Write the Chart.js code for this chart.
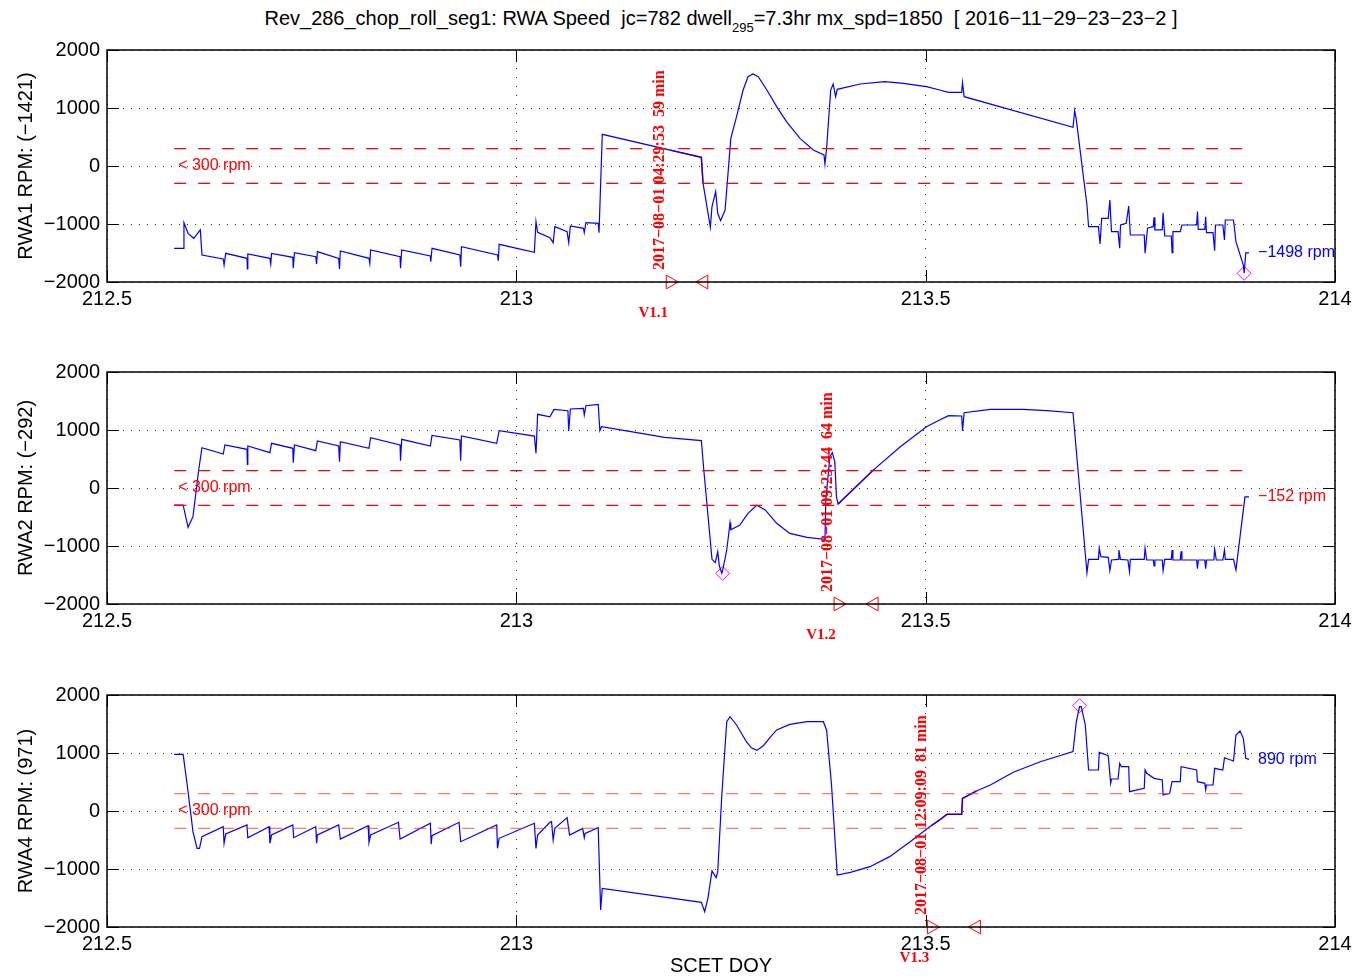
<!DOCTYPE html>
<html>
<head>
<meta charset="utf-8">
<script src="https://cdn.jsdelivr.net/npm/chart.js@4.4.0/dist/chart.umd.min.js"></script>
<style>
  body { margin: 0; background: #fff; width: 1353px; height: 979px; position: relative; overflow: hidden;
         font-family: "Liberation Sans", Arial, Helvetica, sans-serif; }
  #title { position: absolute; left: 107px; width: 1228px; top: 7px; text-align: center; font-size: 20px;
           white-space: pre; color: #000; line-height: 22px; }
  #title sub { font-size: 13px; vertical-align: -7px; line-height: 0; }
  .panel { position: absolute; left: 0; width: 1353px; }
</style>
</head>
<body>
<div id="title">Rev_286_chop_roll_seg1: RWA Speed  jc=782 dwell<sub>295</sub>=7.3hr mx_spd=1850  [ 2016−11−29−23−23−2 ]</div>
<div class="panel" style="top:31px;height:291px"><canvas id="rwa1"></canvas></div>
<div class="panel" style="top:353px;height:291px"><canvas id="rwa2"></canvas></div>
<div class="panel" style="top:676px;height:302px"><canvas id="rwa4"></canvas></div>
<script>
// axes
const doyTicks = [212.5, 213, 213.5, 214];
const rpmTicks = [-2000, -1000, 0, 1000, 2000];

// per-wheel info
const wheelNames = ['RWA1', 'RWA2', 'RWA4'];
const wheelMean = [-1421, -292, 971];
const finalRpm = [-1498, -152, 890];
const peakDoy = [213.889, 213.252, 213.688];
const peakRpm = [-1850, -1471, 1815];

// low speed band
const bandRpm = 300;
const bandDoy = [212.582, 213.895];

// passes
const passName = ['V1.1', 'V1.2', 'V1.3'];
const passTime = ['2017−08−01 04:29:53', '2017−08−01 09:23:44', '2017−08−01 12:09:09'];
const passMinutes = [59, 64, 81];
const passStart = [213.188, 213.393, 213.507];
const passEnd = [213.229, 213.437, 213.562];

// RWA1 speed
const rwa1Doy = [212.582, 212.593, 212.594, 212.599, 212.606, 212.614, 212.616,
  212.642, 212.643, 212.645, 212.671, 212.6715, 212.672, 212.699, 212.700, 212.701,
  212.727, 212.7275, 212.729, 212.755, 212.756, 212.757, 212.783, 212.784, 212.785,
  212.820, 212.821, 212.822, 212.858, 212.8585, 212.860, 212.895, 212.8955, 212.897,
  212.931, 212.932, 212.933, 212.977, 212.978, 212.979, 213.022, 213.024, 213.026,
  213.041, 213.045, 213.047, 213.062, 213.064, 213.066, 213.082, 213.083, 213.085,
  213.100, 213.101, 213.105, 213.188, 213.226, 213.228, 213.237, 213.239, 213.2435,
  213.246, 213.2495, 213.255, 213.262, 213.269, 213.277, 213.283, 213.289, 213.2955,
  213.306, 213.318, 213.330, 213.3465, 213.3627, 213.3758, 213.377, 213.379, 213.384,
  213.387, 213.390, 213.392, 213.420, 213.450, 213.4727, 213.501, 213.517, 213.528,
  213.544, 213.545, 213.547,
  213.680, 213.682, 213.684, 213.697, 213.699, 213.711, 213.713, 213.715, 213.723,
  213.725, 213.727, 213.735, 213.737, 213.738, 213.745, 213.748, 213.750, 213.767,
  213.768, 213.771, 213.778, 213.779, 213.780, 213.789, 213.790, 213.792, 213.800,
  213.801, 213.802, 213.811, 213.813, 213.831, 213.832, 213.833, 213.841, 213.842,
  213.843, 213.851, 213.853, 213.854, 213.863, 213.865, 213.866, 213.876, 213.879,
  213.888, 213.889, 213.891, 213.895];
const rwa1Rpm = [-1420, -1420, -977, -1161, -1247, -1103, -1534,
  -1603, -1707, -1506, -1592, -1776, -1517, -1592, -1690, -1506,
  -1575, -1764, -1494, -1563, -1690, -1477, -1592, -1776, -1466,
  -1592, -1678, -1448, -1563, -1764, -1448, -1552, -1649, -1419,
  -1534, -1736, -1391, -1534, -1632, -1350, -1488, -960, -1143,
  -1236, -1322, -1046, -1132, -1322, -1034, -1074, -1149, -977,
  -988, -1149, 546, 274, 150, -290, -1057, -701, -443,
  -816, -943, -759, 477, 850, 1310, 1540, 1586, 1540,
  1310, 1023, 764, 477, 276, 190, 34, 305, 1310,
  1414, 1195, 1322, 1414, 1453, 1426, 1368, 1310, 1270,
  1270, 1436, 1195,
  667, 954, 800, -672, -1046, -1046, -1345, -902, -902,
  -586, -1132, -1132, -1419, -1017, -988, -690, -1190, -1190,
  -1505, -1074, -1046, -885, -1103, -1103, -805, -1207, -1207,
  -1494, -1132, -1132, -1017, -1017, -787, -1092, -1092, -874,
  -1149, -1149, -1460, -1017, -1017, -1276, -931, -931, -1305,
  -1707, -1850, -1498, -1498];
const rwa1RedDoy = [213.188, 213.226, 213.228];
const rwa1RedRpm = [274, 150, -290];

// RWA2 speed
const rwa2Doy = [212.582, 212.593, 212.599, 212.605, 212.612, 212.616,
  212.642, 212.644, 212.671, 212.6715, 212.672, 212.699, 212.701,
  212.727, 212.7275, 212.729, 212.755, 212.757, 212.783, 212.784, 212.785,
  212.820, 212.822, 212.858, 212.8585, 212.860, 212.895, 212.897,
  212.931, 212.932, 212.933, 212.976, 212.979, 213.022, 213.024, 213.026,
  213.041, 213.046, 213.063, 213.064, 213.066, 213.082, 213.083, 213.085,
  213.100, 213.102, 213.104, 213.140, 213.181, 213.226, 213.229, 213.239,
  213.243, 213.246, 213.248, 213.251, 213.253, 213.257, 213.260, 213.261,
  213.262, 213.273, 213.283, 213.2936, 213.304, 213.318, 213.334, 213.355,
  213.377, 213.378, 213.383, 213.386, 213.389, 213.391, 213.393, 213.437,
  213.469, 213.501, 213.517, 213.528,
  213.544, 213.545, 213.547, 213.579, 213.619, 213.648, 213.680, 213.697,
  213.699, 213.711, 213.712, 213.714, 213.723, 213.725, 213.727, 213.735,
  213.736, 213.738, 213.747, 213.749, 213.750, 213.767, 213.768, 213.770,
  213.778, 213.779, 213.780, 213.789, 213.790, 213.792, 213.800, 213.801,
  213.802, 213.811, 213.812, 213.813, 213.831, 213.832, 213.833, 213.841,
  213.842, 213.843, 213.852, 213.853, 213.855, 213.863, 213.865, 213.866,
  213.876, 213.879, 213.890, 213.895];
const rwa2Rpm = [-293, -293, -678, -494, 310, 695,
  586, 741, 667, 408, 724, 609, 770,
  684, 436, 741, 644, 810, 724, 454, 798,
  684, 867, 741, 471, 839, 724, 908,
  828, 471, 896, 770, 988, 896, 598, 1270,
  1229, 1356, 1333, 983, 1362, 1374, 1258, 1419,
  1443, 988, 1057, 971, 874, 816, 310, -1230,
  -1287, -1098, -1345, -1471, -1356, -1069, -724, -598,
  -720, -638, -437, -299, -379, -609, -782, -851,
  -885, -207, 540, 609, 454, -149, -276, 322,
  712, 1057, 1172, 1247,
  1241, 988, 1298, 1356, 1356, 1333, 1298, -1460,
  -1230, -1230, -1040, -1184, -1195, -1425, -1241, -1230,
  -1069, -1230, -1241, -1443, -1230, -1230, -1040, -1241,
  -1241, -1345, -1241, -1241, -1425, -1230, -1230, -1069,
  -1241, -1241, -1092, -1241, -1241, -1391, -1241, -1241,
  -1391, -1241, -1241, -1057, -1241, -1241, -1069, -1230,
  -1230, -1414, -152, -152];
const rwa2RedDoy = [213.393, 213.437];
const rwa2RedRpm = [-276, 322];

// RWA4 speed
const rwa4Doy = [212.582, 212.593, 212.598, 212.605, 212.610, 212.613, 212.616,
  212.642, 212.643, 212.645, 212.671, 212.672, 212.698, 212.699, 212.701,
  212.727, 212.728, 212.755, 212.756, 212.757, 212.783, 212.785,
  212.819, 212.820, 212.822, 212.856, 212.858, 212.895, 212.896, 212.897,
  212.930, 212.932, 212.976, 212.977, 212.979, 213.022, 213.024, 213.026,
  213.041, 213.043, 213.045, 213.047, 213.062, 213.065, 213.081, 213.083,
  213.084, 213.100, 213.103, 213.105, 213.226, 213.230, 213.234, 213.239,
  213.244, 213.246, 213.251, 213.257, 213.261, 213.269, 213.281, 213.287,
  213.294, 213.302, 213.310, 213.318, 213.334, 213.355, 213.375, 213.379, 213.385, 213.392,
  213.408, 213.432, 213.456, 213.481, 213.505, 213.517, 213.526, 213.544,
  213.545, 213.562, 213.579, 213.607, 213.640, 213.680, 213.684, 213.688,
  213.690, 213.695, 213.699, 213.711, 213.712, 213.723, 213.726, 213.727,
  213.735, 213.737, 213.739, 213.748, 213.749, 213.767, 213.768, 213.770,
  213.779, 213.789, 213.790, 213.798, 213.801, 213.811, 213.812, 213.831,
  213.832, 213.841, 213.842, 213.843, 213.851, 213.853, 213.863, 213.865,
  213.876, 213.879, 213.884, 213.888, 213.891, 213.895];
const rwa4Rpm = [975, 975, 448, -356, -644, -644, -443,
  -270, -557, -397, -241, -460, -270, -557, -414,
  -241, -460, -270, -557, -414, -241, -483,
  -253, -540, -414, -195, -483, -212, -574, -425,
  -195, -529, -241, -644, -471, -212, -644, -414,
  -195, -184, -500, -299, -115, -414, -299, -460,
  -385, -287, -1707, -1333, -1575, -1736, -1506, -1034,
  -1149, -1046, 276, 1540, 1626, 1483, 1195, 1090,
  1045, 1130, 1270, 1397, 1494, 1540, 1540, 1397, 448, -1103,
  -1057, -960, -787, -529, -270, -155, -57, -57,
  218, 345, 448, 667, 850, 1023, 1540, 1798,
  1798, 1483, 707, 707, 1011, 954, 477, 552,
  552, 822, 764, 764, 333, 391, 707, 649,
  563, 534, 276, 305, 506, 506, 764, 707,
  506, 477, 362, 448, 448, 736, 707, 919,
  862, 1310, 1379, 1253, 908, 890];
const rwa4RedDoy = [213.507, 213.517, 213.526, 213.544, 213.545, 213.562];
const rwa4RedRpm = [-251, -155, -57, -57, 218, 345];

const sans = '"Liberation Sans", Arial, Helvetica, sans-serif';
const serif = '"Liberation Serif", "Times New Roman", serif';
const minus = v => String(v).replace('-', '\u2212');
const bandColors = ['#ff0000', '#ff0000', 'rgba(255,40,40,0.65)'];

Chart.defaults.font.family = sans;
Chart.defaults.color = '#000';

// draws the matlab-style box, inward ticks and the text notes
const matlabBox = {
  id: 'matlabBox',
  afterDraw(chart) {
    const i = chart.options.plugins.matlabBox.panel;
    const { ctx, chartArea: a } = chart;
    const x = chart.scales.x, y = chart.scales.y;
    ctx.save();
    ctx.strokeStyle = '#000';
    ctx.lineWidth = 1;
    ctx.beginPath();
    doyTicks.forEach(v => {
      const px = Math.round(x.getPixelForValue(v)) + 0.5;
      ctx.moveTo(px, a.bottom); ctx.lineTo(px, a.bottom - 12);
      ctx.moveTo(px, a.top); ctx.lineTo(px, a.top + 12);
    });
    rpmTicks.forEach(v => {
      const py = Math.round(y.getPixelForValue(v)) + 0.5;
      ctx.moveTo(a.left, py); ctx.lineTo(a.left + 12, py);
      ctx.moveTo(a.right, py); ctx.lineTo(a.right - 12, py);
    });
    ctx.stroke();
    ctx.lineWidth = 1.5;
    ctx.strokeRect(a.left, a.top, a.right - a.left, a.bottom - a.top);

    // band note
    ctx.font = '16px ' + sans;
    ctx.textBaseline = 'middle';
    ctx.textAlign = 'left';
    ctx.fillStyle = 'red';
    ctx.fillText('< ' + bandRpm + ' rpm', x.getPixelForValue(bandDoy[0]) + 4, y.getPixelForValue(0));

    // final value
    ctx.fillStyle = Math.abs(finalRpm[i]) < bandRpm ? 'red' : 'blue';
    ctx.fillText(minus(finalRpm[i]) + ' rpm', x.getPixelForValue(bandDoy[1]) + 9, y.getPixelForValue(finalRpm[i]));

    // pass time, rotated
    const xs = x.getPixelForValue(passStart[i]);
    ctx.fillStyle = 'red';
    ctx.font = 'bold 16px ' + serif;
    ctx.save();
    ctx.translate(xs - 10, a.bottom - 12);
    ctx.rotate(-Math.PI / 2);
    ctx.fillText(passTime[i] + '  ' + passMinutes[i] + ' min', 0, 0);
    ctx.restore();

    // pass name
    ctx.font = 'bold 15px ' + serif;
    ctx.textAlign = 'center';
    ctx.fillText(passName[i], xs - 17, a.bottom + 31);
    ctx.restore();
  }
};

function panel(i, id, doy, rpm, redDoy, redRpm, axisH, xTitle) {
  const pts = (xs, ys) => xs.map((v, k) => ({ x: v, y: ys[k] }));
  const marker = (px, py, style, rot, r, color) => ({
    data: [{ x: px, y: py }], showLine: false, clip: false,
    pointStyle: style, pointRotation: rot, pointRadius: r,
    pointBorderColor: color, pointBackgroundColor: 'rgba(0,0,0,0)', pointBorderWidth: 1
  });
  new Chart(document.getElementById(id), {
    type: 'line',
    data: {
      datasets: [
        { data: pts(bandDoy, [bandRpm, bandRpm]), borderColor: bandColors[i], borderWidth: 1.2, borderDash: [12, 12], pointRadius: 0 },
        { data: pts(bandDoy, [-bandRpm, -bandRpm]), borderColor: bandColors[i], borderWidth: 1.2, borderDash: [12, 12], pointRadius: 0 },
        { data: pts(doy, rpm), borderColor: '#0000ff', borderWidth: 1.2, pointRadius: 0 },
        { data: pts(redDoy, redRpm), borderColor: '#dd0022', borderWidth: 1.5, pointRadius: 0 },
        marker(passStart[i], rpmTicks[0], 'triangle', 90, 8, 'red'),
        marker(passEnd[i], rpmTicks[0], 'triangle', -90, 8, 'red'),
        marker(peakDoy[i], peakRpm[i], 'rectRot', 0, 7, '#ff00ff')
      ]
    },
    options: {
      responsive: true,
      maintainAspectRatio: false,
      animation: false,
      events: [],
      layout: { padding: { top: 0, right: 18, bottom: 0, left: 0 } },
      plugins: { legend: { display: false }, tooltip: { enabled: false }, matlabBox: { panel: i } },
      scales: {
        x: {
          type: 'linear', min: doyTicks[0], max: doyTicks[doyTicks.length - 1],
          afterBuildTicks: s => { s.ticks = doyTicks.map(v => ({ value: v })); },
          afterFit: s => { s.height = axisH; },
          ticks: { font: { size: 20, lineHeight: 1.7 }, color: '#000', padding: 0, maxRotation: 0, autoSkip: false, callback: v => String(v) },
          grid: { color: '#333', lineWidth: 1, drawTicks: false },
          border: { display: false, dash: [1, 8] },
          title: { display: !!xTitle, text: xTitle || '', font: { size: 20 }, color: '#000', padding: { top: 0, bottom: 0 } }
        },
        y: {
          min: rpmTicks[0], max: rpmTicks[rpmTicks.length - 1],
          afterBuildTicks: s => { s.ticks = rpmTicks.map(v => ({ value: v })); },
          afterFit: s => { s.width = 107; },
          ticks: { font: { size: 20 }, color: '#000', padding: 7, callback: v => minus(v) },
          grid: { color: '#333', lineWidth: 1, drawTicks: false },
          border: { display: false, dash: [1, 7] },
          title: { display: true, text: wheelNames[i] + ' RPM: (' + minus(wheelMean[i]) + ')', font: { size: 20 }, color: '#000', padding: { top: 14, bottom: 0 } }
        }
      }
    },
    plugins: [matlabBox]
  });
}

panel(0, 'rwa1', rwa1Doy, rwa1Rpm, rwa1RedDoy, rwa1RedRpm, 40);
panel(1, 'rwa2', rwa2Doy, rwa2Rpm, rwa2RedDoy, rwa2RedRpm, 40);
panel(2, 'rwa4', rwa4Doy, rwa4Rpm, rwa4RedDoy, rwa4RedRpm, 51, 'SCET DOY');
</script>
</body>
</html>
